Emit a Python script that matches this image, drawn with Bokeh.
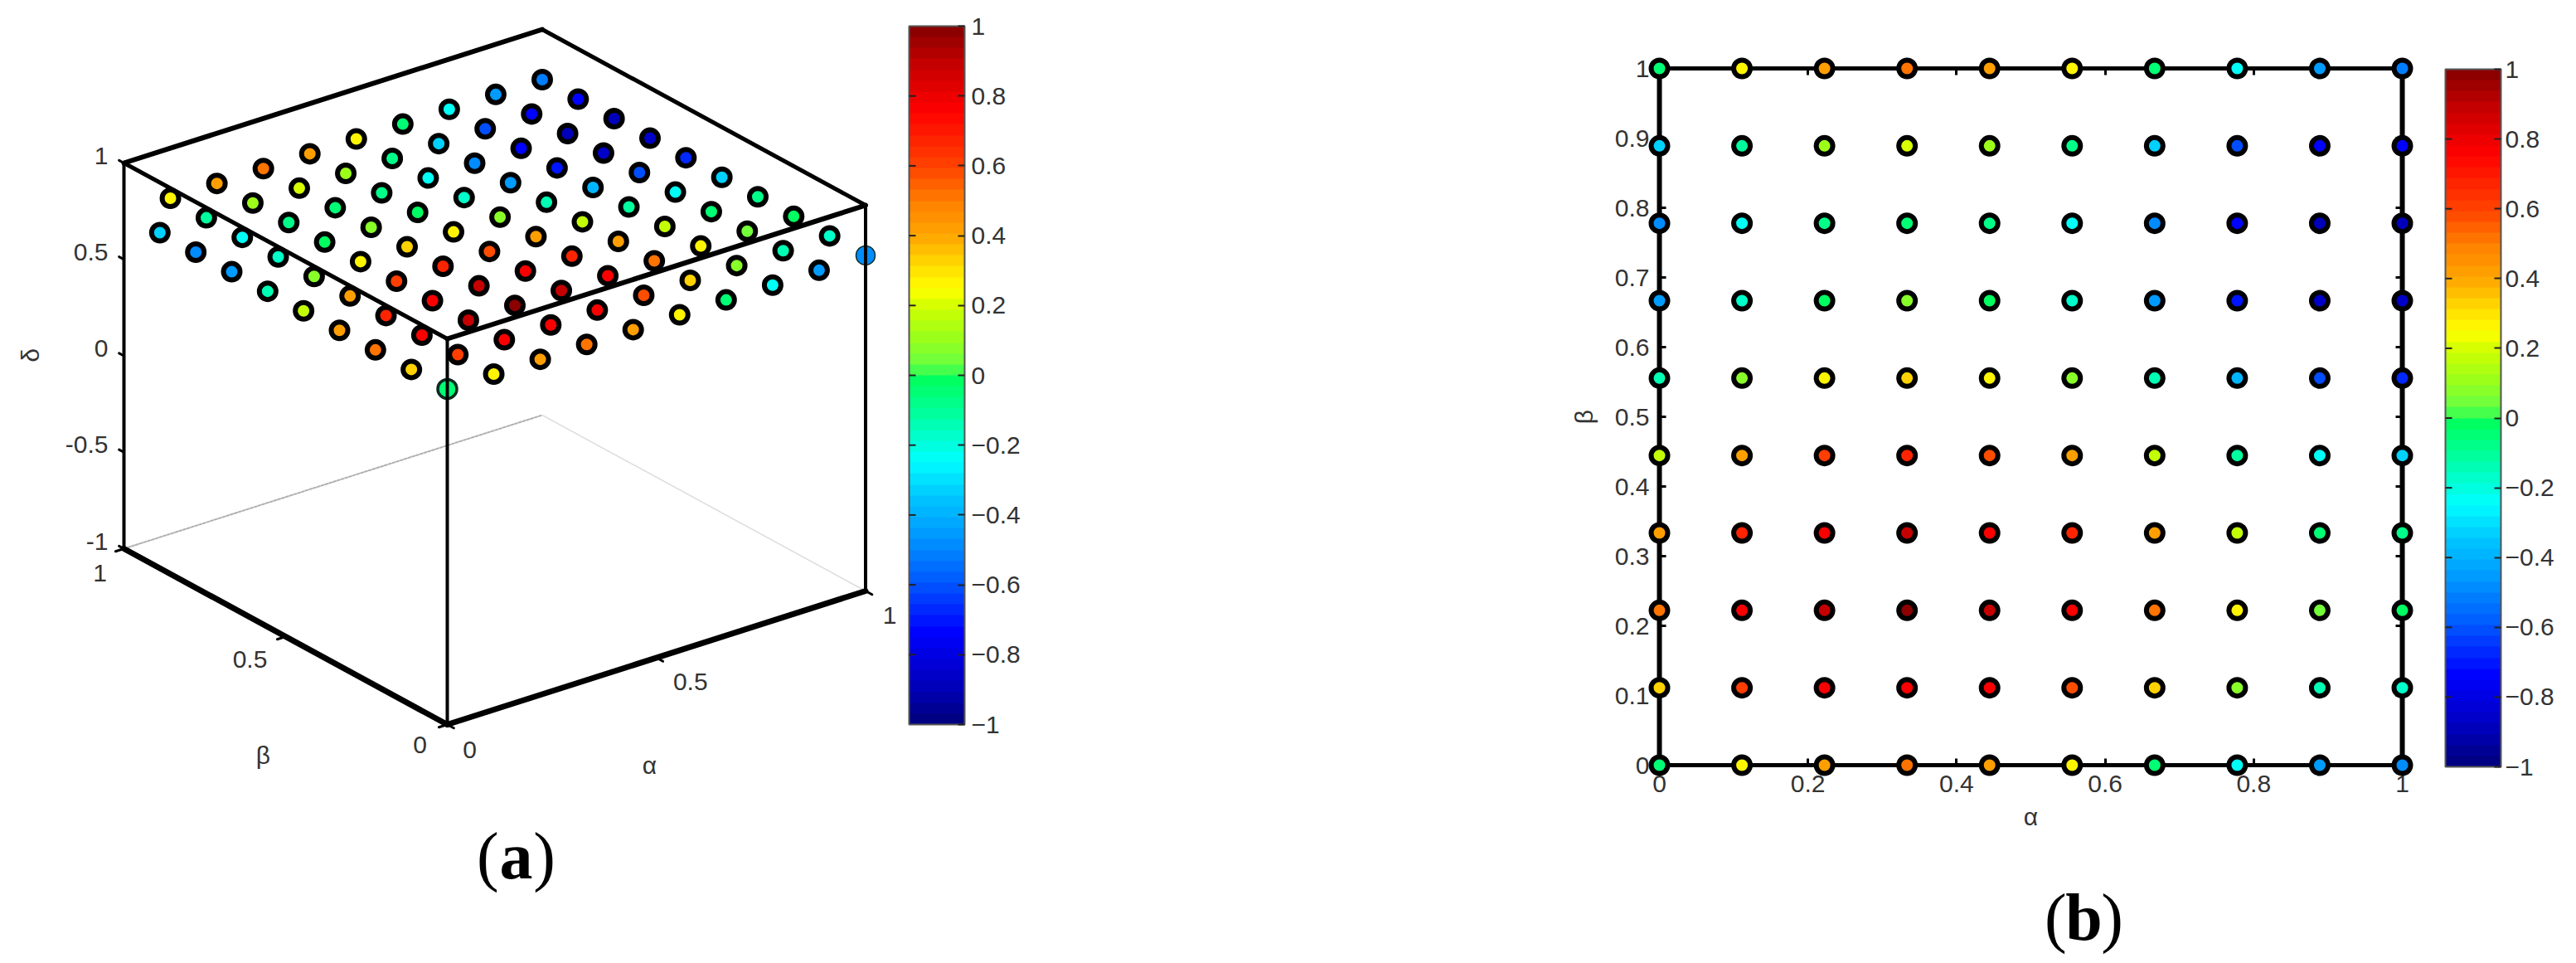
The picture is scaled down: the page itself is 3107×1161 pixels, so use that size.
import numpy as np
from bokeh.embed import file_html
from bokeh.resources import INLINE
from bokeh.plotting import figure
from bokeh.layouts import row
from bokeh.core.properties import value
from bokeh.models import (ColorBar, ColumnDataSource, CustomJSTickFormatter, FixedTicker,
                          Label, LinearAxis, LinearColorMapper, Range1d)

# ---------- data ----------
alpha = [0, 1/9, 2/9, 3/9, 4/9, 5/9, 6/9, 7/9, 8/9, 1]
beta = [0, 1/9, 2/9, 3/9, 4/9, 5/9, 6/9, 7/9, 8/9, 1]
row_b0 = [-0.04, 0.27, 0.42, 0.52, 0.42, 0.28, -0.05, -0.24, -0.45, -0.50]
row_b1 = [0.32, 0.60, 0.78, 0.78, 0.75, 0.58, 0.33, 0.07, -0.15, -0.18]
row_b2 = [0.50, 0.75, 0.90, 0.97, 0.90, 0.75, 0.50, 0.25, 0.05, -0.03]
row_b3 = [0.42, 0.68, 0.78, 0.90, 0.78, 0.68, 0.42, 0.17, -0.05, -0.08]
row_b4 = [0.18, 0.42, 0.60, 0.66, 0.58, 0.42, 0.18, -0.12, -0.25, -0.33]
row_b5 = [-0.15, 0.08, 0.28, 0.33, 0.28, 0.08, -0.15, -0.40, -0.62, -0.68]
row_b6 = [-0.45, -0.17, -0.03, 0.07, -0.03, -0.17, -0.45, -0.70, -0.85, -0.85]
row_b7 = [-0.50, -0.23, -0.08, -0.05, -0.08, -0.22, -0.50, -0.72, -0.88, -0.88]
row_b8 = [-0.33, -0.10, 0.12, 0.20, 0.12, -0.08, -0.32, -0.60, -0.72, -0.72]
row_b9 = [-0.05, 0.27, 0.42, 0.52, 0.42, 0.28, -0.05, -0.22, -0.45, -0.52]
rows = [row_b0, row_b1, row_b2, row_b3, row_b4, row_b5, row_b6, row_b7, row_b8, row_b9]
plane_delta = 0.74
cbar_ticks = [-1, -0.8, -0.6, -0.4, -0.2, 0, 0.2, 0.4, 0.6, 0.8, 1]
x_ticks_b = [0, 0.2, 0.4, 0.6, 0.8, 1]
y_ticks_b = [0, 0.1, 0.2, 0.3, 0.4, 0.5, 0.6, 0.7, 0.8, 0.9, 1]
delta_ticks = [-1, -0.5, 0, 0.5, 1]
ab_ticks = [0, 0.5, 1]

# ---------- colours ----------
anch_v = [-1, -0.9, -0.75, -0.6, -0.45, -0.35, -0.25, -0.1, -0.005, 0.025, 0.1, 0.2, 0.25, 0.3, 0.4, 0.5, 0.6, 0.77, 0.9, 1]
anch_r = [0, 0, 0, 0, 0, 0, 0, 0, 0, 100, 150, 210, 255, 255, 255, 255, 255, 255, 200, 140]
anch_g = [0, 0, 0, 90, 160, 200, 255, 255, 255, 255, 255, 255, 255, 230, 170, 130, 70, 0, 0, 0]
anch_b = [130, 190, 255, 255, 255, 255, 255, 150, 90, 70, 30, 0, 0, 0, 0, 0, 0, 0, 0, 0]
lv = np.linspace(-1, 1, 64)
palette = ["#%02x%02x%02x" % (int(np.interp(v, anch_v, anch_r)), int(np.interp(v, anch_v, anch_g)),
                              int(np.interp(v, anch_v, anch_b))) for v in lv]
mapper = LinearColorMapper(palette=palette, low=-1, high=1)
TXT = "#333333"
FONT = "Liberation Sans"
TICK_PX = "30px"

# ---------- shared helpers ----------
H = 1155
TOP, BOTTOM = 0, H
SPLIT = 1492


def add_colorbar(fig, left_px, bottom_px, top_px, fig_left, standoff, overrides=None):
    cb = ColorBar(color_mapper=mapper, ticker=FixedTicker(ticks=cbar_ticks), width=67,
                  height=bottom_px - top_px, location=(left_px - fig_left, BOTTOM - bottom_px),
                  padding=0, margin=0, major_tick_in=8, major_tick_line_color="#222222",
                  major_tick_line_width=2, minor_tick_line_color=None, bar_line_color="#555555",
                  bar_line_width=2, border_line_color=None, background_fill_color=None,
                  label_standoff=standoff, major_label_text_font=FONT,
                  major_label_text_font_size=TICK_PX, major_label_text_color=TXT,
                  major_label_overrides=overrides or {})
    fig.add_layout(cb, "center")


# ---------- panel (a): oblique 3-D view, projected to page pixels ----------
pa = figure(width=SPLIT, height=H, x_range=Range1d(0, SPLIT), y_range=Range1d(BOTTOM, TOP),
            output_backend="svg", toolbar_location=None, min_border=0, outline_line_color=None)
pa.axis.visible = False
pa.grid.visible = False


def project(a, b, d):
    a, b, d = np.asarray(a, float), np.asarray(b, float), np.asarray(d, float)
    return 539 + 504.5 * a - 390 * b, 640.5 - 161 * a - 212 * b - 232.5 * d


def edge(p0, p1, **kw):
    xs, ys = project([p0[0], p1[0]], [p0[1], p1[1]], [p0[2], p1[2]])
    pa.line(xs, ys, line_cap="round", **kw)


edge((0, 1, -1), (1, 1, -1), line_color="#b0b0b0", line_width=2, line_dash="3 2")
edge((1, 1, -1), (1, 0, -1), line_color="#dddddd", line_width=1.5)

A, B, D = [], [], []
for j, bv in enumerate(beta):
    for i, av in enumerate(alpha):
        if (i == 0 and j == len(beta) - 1):
            continue  # hidden in the 3-D view
        A.append(av); B.append(bv); D.append(rows[j][i])
A, B, D = np.array(A), np.array(B), np.array(D)
X3, Y3 = project(A, B, np.full(A.shape, plane_delta))
is_corner = (B == 0) & ((A == 0) | (A == 1))
corner = ColumnDataSource(dict(x=X3[is_corner], y=Y3[is_corner], v=D[is_corner], w=[3.5, 1.5]))
pa.scatter("x", "y", source=corner, size=23, fill_color={"field": "v", "transform": mapper},
           line_color="#0a2a20", line_width="w")

for c in [(0, 1), (0, 0), (1, 0)]:
    edge((c[0], c[1], -1), (c[0], c[1], 1), line_color="black", line_width=4)
edge((0, 1, 1), (1, 1, 1), line_color="black", line_width=6)
edge((1, 1, 1), (1, 0, 1), line_color="black", line_width=5)
edge((0, 1, 1), (0, 0, 1), line_color="black", line_width=5)
edge((0, 0, 1), (1, 0, 1), line_color="black", line_width=6)
edge((0, 1, -1), (0, 0, -1), line_color="black", line_width=7)
edge((0, 0, -1), (1, 0, -1), line_color="black", line_width=7)

# tick marks
for d in delta_ticks:
    edge((0, 1.015, d), (0, 1, d), line_color="black", line_width=3)
for t in ab_ticks:
    edge((t, 0, -1), (t, -0.02, -1), line_color="black", line_width=3)
    edge((0, t, -1), (-0.02, t, -1), line_color="black", line_width=3)

main = ColumnDataSource(dict(x=X3[~is_corner], y=Y3[~is_corner], v=D[~is_corner]))
pa.scatter("x", "y", source=main, size=20, fill_color={"field": "v", "transform": mapper},
           line_color="black", line_width=6)


def ticktext(fig, xs, ys, labels, dx, dy, align="center"):
    fig.text(xs, ys, text=labels, x_offset=dx, y_offset=dy, text_align=align, text_baseline="middle",
             text_font=value(FONT), text_font_size=TICK_PX, text_color=TXT)


dx_, dy_ = project(np.zeros(5), np.ones(5), delta_ticks)
ticktext(pa, dx_, dy_, ["-1", "-0.5", "0", "0.5", "1"], -19, -9, "right")
bx_, by_ = project(np.zeros(3), ab_ticks, -np.ones(3))
for k, (off, lab) in enumerate(zip([(-33, 24), (-43, 27), (-29, 29)], ["0", "0.5", "1"])):
    ticktext(pa, [bx_[k]], [by_[k]], [lab], off[0], off[1])
ax_, ay_ = project(ab_ticks, np.zeros(3), -np.ones(3))
for k, (off, lab) in enumerate(zip([(27, 30), (41, 29), (29, 29)], ["0", "0.5", "1"])):
    ticktext(pa, [ax_[k]], [ay_[k]], [lab], off[0], off[1])

for x, y, t, ang in [(36, 428, "δ", np.pi / 2), (317, 910, "β", 0), (783, 922, "α", 0)]:
    pa.add_layout(Label(x=x, y=y, text=t, angle=ang, text_align="center", text_baseline="middle",
                        text_font=FONT, text_font_size="30px", text_color=TXT))


def caption(fig, cx, cy, letter):
    S = 80
    for dx, t, st, al in [(-0.26 * S, "(", "normal", "right"), (0, letter, "bold", "center"),
                          (0.26 * S, ")", "normal", "left")]:
        fig.add_layout(Label(x=cx, y=cy, text=t, x_offset=dx, text_align=al, text_baseline="middle",
                             text_font="Liberation Serif", text_font_style=st,
                             text_font_size=f"{S}px", text_color="black"))


caption(pa, 622, 1031, "a")
add_colorbar(pa, 1096, 873, 31, 0, 8)
tk_y = 873 - (np.array(cbar_ticks[1:-1]) + 1) / 2 * (873 - 31)
pa.segment([1096] * 9, tk_y, [1104] * 9, tk_y, line_color="#222222", line_width=2, level="overlay")

# ---------- panel (b) ----------
X0, X1, Y0, Y1 = 2001, 2897, 922, 82
RIGHT = 3091
to_a = lambda px: (px - X0) / (X1 - X0)
to_b = lambda py: (py - Y0) / (Y1 - Y0)
pb = figure(width=RIGHT - SPLIT, height=H, x_range=Range1d(to_a(SPLIT), to_a(RIGHT)),
            y_range=Range1d(to_b(BOTTOM), to_b(TOP)), output_backend="svg", toolbar_location=None,
            min_border=0, outline_line_color=None, x_axis_location=None, y_axis_location=None)
pb.grid.visible = False

blank = CustomJSTickFormatter(code="return ''")


def make_axis(ticks, loc, lw, show=False, label=None, standoff=0):
    ax = LinearAxis(ticker=FixedTicker(ticks=ticks), fixed_location=loc, bounds=(0, 1),
                    axis_line_color="black", axis_line_width=lw, axis_line_cap="round",
                    major_tick_in=8, major_tick_out=0, major_tick_line_color="black",
                    major_tick_line_width=3, minor_tick_line_color=None)
    if show:
        ax.major_label_text_font = FONT
        ax.major_label_text_font_size = TICK_PX
        ax.major_label_text_color = TXT
        ax.major_label_standoff = 12
        ax.axis_label = label
        ax.axis_label_text_font = FONT
        ax.axis_label_text_font_size = "30px"
        ax.axis_label_text_font_style = "normal"
        ax.axis_label_text_color = TXT
        ax.axis_label_standoff = standoff
    else:
        ax.formatter = blank
    return ax


pb.add_layout(make_axis(x_ticks_b, 0, 5, True, "α", 10), "below")
pb.add_layout(make_axis(x_ticks_b, 1, 5), "above")
pb.add_layout(make_axis(y_ticks_b, 0, 6, True, "β", 18), "left")
pb.add_layout(make_axis(y_ticks_b, 1, 6), "right")

AA, BB, VV = [], [], []
for j, bv in enumerate(beta):
    for i, av in enumerate(alpha):
        AA.append(av); BB.append(bv); VV.append(rows[j][i])
pb.scatter("x", "y", source=ColumnDataSource(dict(x=AA, y=BB, v=VV)), size=20,
           fill_color={"field": "v", "transform": mapper}, line_color="black", line_width=6, level="overlay")

caption(pb, to_a(2513), to_b(1105), "b")
minus = {t: ("%g" % t).replace("-", "\u2212") for t in cbar_ticks}
add_colorbar(pb, 2949, 924, 83, SPLIT, 5, overrides=minus)
tk_yb = 924 - (np.array(cbar_ticks[1:-1]) + 1) / 2 * (924 - 83)
pb.segment([to_a(2949)] * 9, to_b(tk_yb), [to_a(2957)] * 9, to_b(tk_yb), line_color="#222222",
           line_width=2, level="overlay")

layout = row(pa, pb, spacing=0)
open("out.html", "w").write(file_html(layout, INLINE))
